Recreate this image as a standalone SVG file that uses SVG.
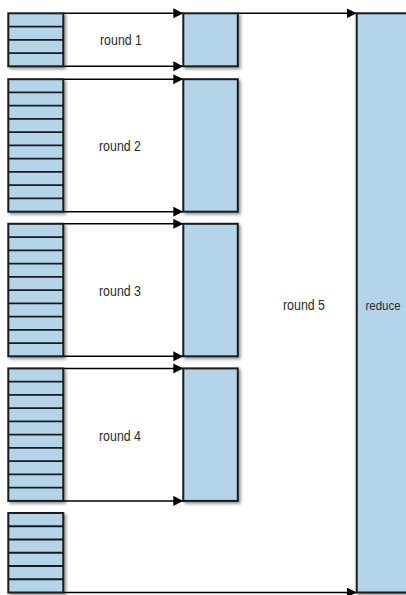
<svg xmlns="http://www.w3.org/2000/svg" width="406" height="595" viewBox="0 0 406 595">
  <defs>
    <filter id="shadow" x="-20%" y="-20%" width="140%" height="140%">
      <feDropShadow dx="2" dy="2" stdDeviation="1.5" flood-color="#000" flood-opacity="0.4"/>
    </filter>
    <marker id="arrow" markerUnits="userSpaceOnUse" markerWidth="10" markerHeight="10" refX="10" refY="5" orient="auto">
      <path d="M0,0 L10,5 L0,10 z" fill="#000"/>
    </marker>
  </defs>
  <style>
    .box { fill: #b3d4e9; stroke: #1a1a1a; stroke-width: 2; filter: url(#shadow); }
    .div { stroke: #1a1a1a; stroke-width: 1.8; }
    .conn { stroke: #000; stroke-width: 1.5; fill: none; marker-end: url(#arrow); }
    .lbl { font-family: "Liberation Sans", Arial, sans-serif; font-size: 15px; fill: #2b2b2b; text-anchor: middle; }
  </style>
  <rect width="406" height="595" fill="#fff"/>

  <g id="connectors">
    <line class="conn" x1="63.3" y1="13.3" x2="183.3" y2="13.3"/>
    <line class="conn" x1="237.8" y1="13.3" x2="356.7" y2="13.3"/>
    <line class="conn" x1="63.3" y1="66.3" x2="183.3" y2="66.3"/>
    <line class="conn" x1="63.3" y1="79.2" x2="183.3" y2="79.2"/>
    <line class="conn" x1="63.3" y1="211.7" x2="183.3" y2="211.7"/>
    <line class="conn" x1="63.3" y1="223.8" x2="183.3" y2="223.8"/>
    <line class="conn" x1="63.3" y1="356.3" x2="183.3" y2="356.3"/>
    <line class="conn" x1="63.3" y1="368.4" x2="183.3" y2="368.4"/>
    <line class="conn" x1="63.3" y1="500.9" x2="183.3" y2="500.9"/>
    <line class="conn" x1="63.3" y1="592.5" x2="356.7" y2="592.5"/>
  </g>

  <g id="stack1">
    <rect class="box" x="8.3" y="13.3" width="55" height="53"/>
    <line class="div" x1="8.3" x2="63.3" y1="26.55" y2="26.55"/>
    <line class="div" x1="8.3" x2="63.3" y1="39.8" y2="39.8"/>
    <line class="div" x1="8.3" x2="63.3" y1="53.05" y2="53.05"/>
  </g>
  <g id="stack2">
    <rect class="box" x="8.3" y="79.2" width="55" height="132.5"/>
    <line class="div" x1="8.3" x2="63.3" y1="92.45" y2="92.45"/>
    <line class="div" x1="8.3" x2="63.3" y1="105.7" y2="105.7"/>
    <line class="div" x1="8.3" x2="63.3" y1="118.95" y2="118.95"/>
    <line class="div" x1="8.3" x2="63.3" y1="132.2" y2="132.2"/>
    <line class="div" x1="8.3" x2="63.3" y1="145.45" y2="145.45"/>
    <line class="div" x1="8.3" x2="63.3" y1="158.7" y2="158.7"/>
    <line class="div" x1="8.3" x2="63.3" y1="171.95" y2="171.95"/>
    <line class="div" x1="8.3" x2="63.3" y1="185.2" y2="185.2"/>
    <line class="div" x1="8.3" x2="63.3" y1="198.45" y2="198.45"/>
  </g>
  <g id="stack3">
    <rect class="box" x="8.3" y="223.8" width="55" height="132.5"/>
    <line class="div" x1="8.3" x2="63.3" y1="237.05" y2="237.05"/>
    <line class="div" x1="8.3" x2="63.3" y1="250.3" y2="250.3"/>
    <line class="div" x1="8.3" x2="63.3" y1="263.55" y2="263.55"/>
    <line class="div" x1="8.3" x2="63.3" y1="276.8" y2="276.8"/>
    <line class="div" x1="8.3" x2="63.3" y1="290.05" y2="290.05"/>
    <line class="div" x1="8.3" x2="63.3" y1="303.3" y2="303.3"/>
    <line class="div" x1="8.3" x2="63.3" y1="316.55" y2="316.55"/>
    <line class="div" x1="8.3" x2="63.3" y1="329.8" y2="329.8"/>
    <line class="div" x1="8.3" x2="63.3" y1="343.05" y2="343.05"/>
  </g>
  <g id="stack4">
    <rect class="box" x="8.3" y="368.4" width="55" height="132.5"/>
    <line class="div" x1="8.3" x2="63.3" y1="381.65" y2="381.65"/>
    <line class="div" x1="8.3" x2="63.3" y1="394.9" y2="394.9"/>
    <line class="div" x1="8.3" x2="63.3" y1="408.15" y2="408.15"/>
    <line class="div" x1="8.3" x2="63.3" y1="421.4" y2="421.4"/>
    <line class="div" x1="8.3" x2="63.3" y1="434.65" y2="434.65"/>
    <line class="div" x1="8.3" x2="63.3" y1="447.9" y2="447.9"/>
    <line class="div" x1="8.3" x2="63.3" y1="461.15" y2="461.15"/>
    <line class="div" x1="8.3" x2="63.3" y1="474.4" y2="474.4"/>
    <line class="div" x1="8.3" x2="63.3" y1="487.65" y2="487.65"/>
  </g>
  <g id="stack5">
    <rect class="box" x="8.3" y="513" width="55" height="79.5"/>
    <line class="div" x1="8.3" x2="63.3" y1="526.25" y2="526.25"/>
    <line class="div" x1="8.3" x2="63.3" y1="539.5" y2="539.5"/>
    <line class="div" x1="8.3" x2="63.3" y1="552.75" y2="552.75"/>
    <line class="div" x1="8.3" x2="63.3" y1="566" y2="566"/>
    <line class="div" x1="8.3" x2="63.3" y1="579.25" y2="579.25"/>
  </g>

  <g id="result1"><rect class="box" x="183.3" y="13.3" width="54.5" height="53"/></g>
  <g id="result2"><rect class="box" x="183.3" y="79.2" width="54.5" height="132.5"/></g>
  <g id="result3"><rect class="box" x="183.3" y="223.8" width="54.5" height="132.5"/></g>
  <g id="result4"><rect class="box" x="183.3" y="368.4" width="54.5" height="132.5"/></g>
  <g id="reduce">
    <rect class="box" x="356.7" y="13.3" width="50.3" height="579.2"/>
  </g>

  <g id="labels">
    <text class="lbl" x="121" y="45" textLength="42" lengthAdjust="spacingAndGlyphs">round 1</text>
    <text class="lbl" x="120" y="151" textLength="42" lengthAdjust="spacingAndGlyphs">round 2</text>
    <text class="lbl" x="120" y="296" textLength="42" lengthAdjust="spacingAndGlyphs">round 3</text>
    <text class="lbl" x="120" y="441" textLength="42" lengthAdjust="spacingAndGlyphs">round 4</text>
    <text class="lbl" x="304" y="310" textLength="42" lengthAdjust="spacingAndGlyphs">round 5</text>
    <text class="lbl" x="383" y="310" style="font-size:13px" textLength="35" lengthAdjust="spacingAndGlyphs">reduce</text>
  </g>
</svg>
